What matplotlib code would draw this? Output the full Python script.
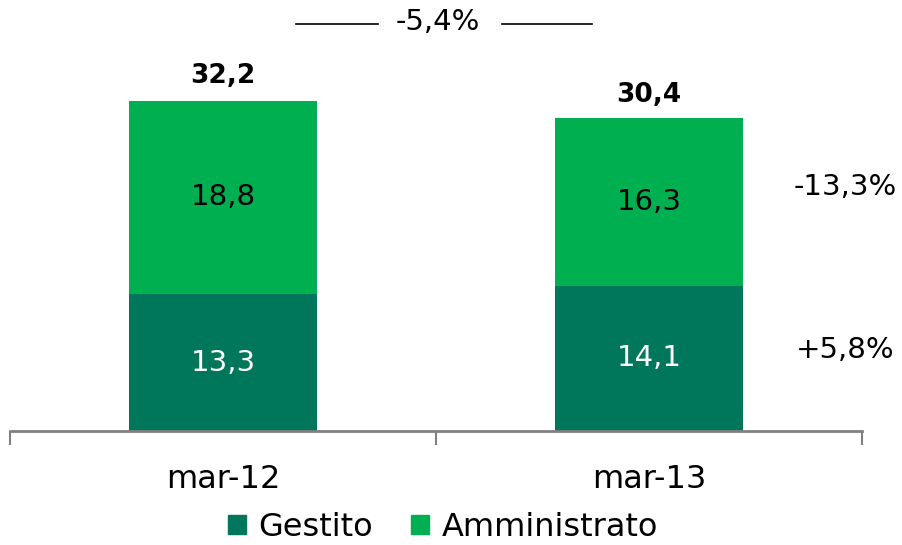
import numpy as np
import matplotlib
matplotlib.use("Agg")
import matplotlib.pyplot as plt
from matplotlib.patches import Patch
from matplotlib.lines import Line2D

# data
periods = ["mar-12", "mar-13"]
gestito = [13.3, 14.1]
amministrato = [18.8, 16.3]
totals = [32.2, 30.4]
var_amministrato = "-13,3%"
var_gestito = "+5,8%"
var_total = "-5,4%"

dark_green = "#00775A"
light_green = "#00B050"

plt.rcParams['font.family'] = ['DejaVu Sans']

W, H = 902, 545
fig = plt.figure(figsize=(W / 100, H / 100), dpi=100)
ax = fig.add_axes([10 / W, 114 / H, 852 / W, 1 - 114 / H])

x = np.arange(len(periods))
width = 0.44
ax.bar(x, gestito, width, color=dark_green, label="Gestito")
ax.bar(x, amministrato, width, bottom=gestito, color=light_green, label="Amministrato")


def fmt(v):
    return f"{v:.1f}".replace(".", ",")


for i in range(len(periods)):
    ax.text(x[i], gestito[i] / 2, fmt(gestito[i]), ha="center", va="center",
            color="white", fontsize=21)
    ax.text(x[i], gestito[i] + amministrato[i] / 2, fmt(amministrato[i]),
            ha="center", va="center", color="black", fontsize=21)
    ax.text(x[i], totals[i] + 1.0, fmt(totals[i]), ha="center",
            va="bottom", color="black", fontsize=19, fontweight="bold")

ax.set_xlim(-0.5, 1.5)
ax.set_ylim(0, 41.9)
ax.set_yticks([])
for s in ["top", "right", "left"]:
    ax.spines[s].set_visible(False)
ax.spines["bottom"].set_color("#808080")
ax.spines["bottom"].set_linewidth(2)
ax.set_xticks([-0.5, 0.5, 1.5], minor=False)
ax.set_xticklabels([])
ax.tick_params(axis="x", length=10, width=1.5, color="#808080", direction="out")
ax.set_xticks(x, minor=True)
ax.set_xticklabels(periods, minor=True, fontsize=23)
ax.tick_params(axis="x", which="minor", length=0, pad=24)

# side annotations
fig.text(845 / W, 1 - 187 / H, var_amministrato, ha="center", va="center", fontsize=21)
fig.text(845 / W, 1 - 350 / H, var_gestito, ha="center", va="center", fontsize=21)

# total change on top
fig.text(438 / W, 1 - 22 / H, var_total, ha="center", va="center", fontsize=21)
fig.add_artist(Line2D([296 / W, 378 / W], [1 - 24 / H] * 2, color="black", lw=1.2))
fig.add_artist(Line2D([502 / W, 592 / W], [1 - 24 / H] * 2, color="black", lw=1.2))

handles = [Patch(color=dark_green), Patch(color=light_green)]
fig.legend(handles, ["Gestito", "Amministrato"], loc="center",
           bbox_to_anchor=(443 / W, 1 - 527 / H), ncol=2, frameon=False,
           fontsize=23, handlelength=0.55, handleheight=0.55, handletextpad=0.4,
           columnspacing=1.2)

fig.savefig("out.png", dpi=100)
